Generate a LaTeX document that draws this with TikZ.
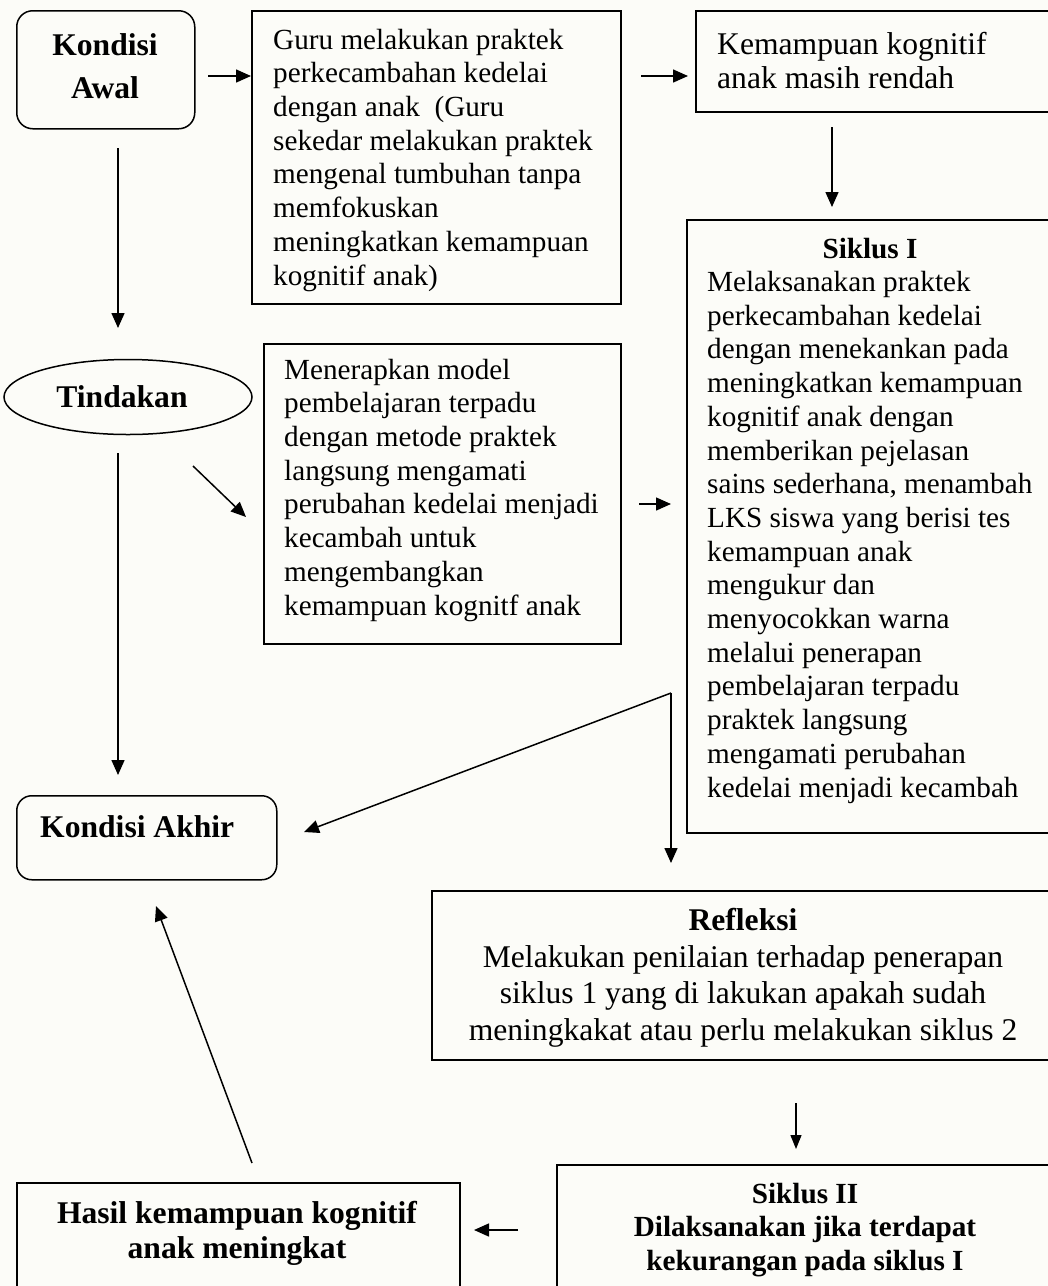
\documentclass[tikz,border=0pt]{standalone}
\usepackage{fontspec}
\setmainfont{Liberation Serif}
\usetikzlibrary{arrows.meta,shapes.geometric}
\definecolor{bgc}{RGB}{252,252,248}
\begin{document}
\begin{tikzpicture}[x=1pt,y=-1pt,
  box/.style={draw=black, line width=1.5pt, rectangle, inner sep=0pt, anchor=north west},
  rbox/.style={box, rounded corners=16pt},
  reg/.style={font=\fontsize{29.2}{33.7}\selectfont, inner sep=0pt},
  big/.style={font=\fontsize{31.6}{35}\selectfont, inner sep=0pt},
  arr/.style={-{Triangle[length=15pt,width=13pt]}, line width=1.5pt},
  sarr/.style={-{Triangle[length=14pt,width=11pt]}, line width=1.3pt}]
\fill[bgc] (0,0) rectangle (1048,1286);
\useasboundingbox (0,0) rectangle (1048,1286);
\clip (0,0) rectangle (1048,1286);

% boxes
\node[rbox, minimum width=178pt, minimum height=118pt] (ka) at (16,10) {};
\node[box, minimum width=369pt, minimum height=293pt] (guru) at (251,10) {};
\node[box, minimum width=370pt, minimum height=101pt] (kem) at (695,10) {};
\node[box, minimum width=368pt, minimum height=613pt] (s1) at (686,219) {};
\node[draw=black, line width=1.5pt, ellipse, minimum width=248pt, minimum height=75pt, inner sep=0pt] (tin) at (128,397) {};
\node[box, minimum width=357pt, minimum height=300pt] (men) at (263,343) {};
\node[rbox, rounded corners=15pt, minimum width=260pt, minimum height=84pt] (kak) at (16,795) {};
\node[box, minimum width=624pt, minimum height=169pt] (ref) at (431,890) {};
\node[box, minimum width=498pt, minimum height=200pt] (s2) at (556,1164) {};
\node[box, minimum width=443pt, minimum height=200pt] (has) at (16,1182) {};

% texts (anchor=base is the baseline of the last line)
\node[big, font=\bfseries\fontsize{31.6}{43}\selectfont, align=center, anchor=base] (tka) at (105,98) {Kondisi\\Awal};
\node[reg, align=left, anchor=base west] (tguru) at (273,285) {Guru melakukan praktek\\perkecambahan kedelai\\dengan anak\ \ (Guru\\sekedar melakukan praktek\\mengenal tumbuhan tanpa\\memfokuskan\\meningkatkan kemampuan\\kognitif anak)};
\node[big, font=\fontsize{31.6}{34}\selectfont, align=left, anchor=base west] (tkem) at (717,88) {Kemampuan kognitif\\anak masih rendah};
\node[reg, font=\bfseries\fontsize{29.2}{33.7}\selectfont, anchor=base] (ts1h) at (870,258) {Siklus I};
\node[reg, align=left, anchor=base west] (ts1) at (707,797) {Melaksanakan praktek\\perkecambahan kedelai\\dengan menekankan pada\\meningkatkan kemampuan\\kognitif anak dengan\\memberikan pejelasan\\sains sederhana, menambah\\LKS siswa yang berisi tes\\kemampuan anak\\mengukur dan\\menyocokkan warna\\melalui penerapan\\pembelajaran terpadu\\praktek langsung\\mengamati perubahan\\kedelai menjadi kecambah};
\node[big, font=\bfseries\fontsize{31.6}{35}\selectfont, anchor=base] (ttin) at (122,407) {Tindakan};
\node[reg, align=left, anchor=base west] (tmen) at (284,615) {Menerapkan model\\pembelajaran terpadu\\dengan metode praktek\\langsung mengamati\\perubahan kedelai menjadi\\kecambah untuk\\mengembangkan\\kemampuan kognitf anak};
\node[big, font=\bfseries\fontsize{31.6}{35}\selectfont, anchor=base west] (tkak) at (40,837) {Kondisi Akhir};
\node[big, font=\bfseries\fontsize{31.6}{35}\selectfont, anchor=base] (trefh) at (743,930) {Refleksi};
\node[big, font=\fontsize{31.6}{36.5}\selectfont, align=center, anchor=base] (tref) at (743,1040) {Melakukan penilaian terhadap penerapan\\siklus 1 yang di lakukan apakah sudah\\meningkakat atau perlu melakukan siklus 2};
\node[reg, font=\bfseries\fontsize{29.2}{33.5}\selectfont, align=center, anchor=base] (ts2) at (805,1270) {Siklus II\\Dilaksanakan jika terdapat\\kekurangan pada siklus I};
\node[big, font=\bfseries\fontsize{31.6}{35}\selectfont, align=center, anchor=base] (thas) at (237,1258) {Hasil kemampuan kognitif\\anak meningkat};

% connector end points
\coordinate (a1s) at (208,76);
\coordinate (a1e) at (251,76);
\coordinate (a2s) at (641,76);
\coordinate (a2e) at (688,76);
\coordinate (a3s) at (832,127);
\coordinate (a3e) at (832,207);
\coordinate (a4s) at (118,148);
\coordinate (a4e) at (118,328);
\coordinate (a5s) at (118,453);
\coordinate (a5e) at (118,775);
\coordinate (a6s) at (193,466);
\coordinate (a6e) at (246,517);
\coordinate (a7s) at (639,504);
\coordinate (a7e) at (671,504);
\coordinate (jn) at (671,693);
\coordinate (a8e) at (304,832);
\coordinate (a9e) at (671,863);
\coordinate (a10s) at (796,1103);
\coordinate (a10e) at (796,1149);
\coordinate (a11s) at (518,1230);
\coordinate (a11e) at (474,1230);
\coordinate (a12s) at (252,1163);
\coordinate (a12e) at (156,906);

\draw[arr] (a1s) -- (a1e);
\draw[arr] (a2s) -- (a2e);
\draw[arr] (a3s) -- (a3e);
\draw[arr] (a4s) -- (a4e);
\draw[arr] (a5s) -- (a5e);
\draw[arr] (a6s) -- (a6e);
\draw[arr] (a7s) -- (a7e);
\draw[arr] (jn) -- (a8e);
\draw[arr] (jn) -- (a9e);
\draw[sarr] (a10s) -- (a10e);
\draw[arr] (a11s) -- (a11e);
\draw[arr] (a12s) -- (a12e);
\end{tikzpicture}
\end{document}
